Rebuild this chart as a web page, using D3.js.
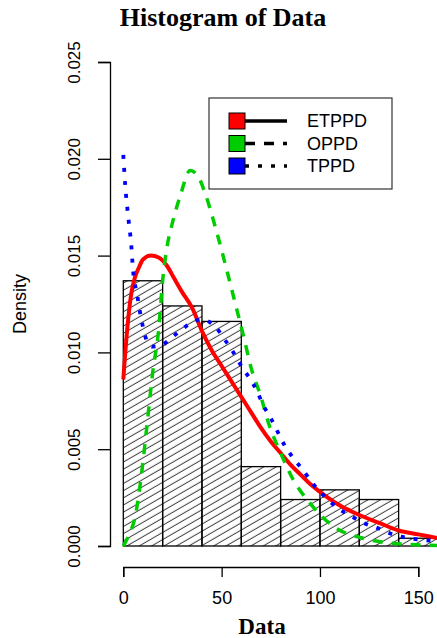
<!DOCTYPE html>
<html>
<head>
<meta charset="utf-8">
<script src="https://cdn.jsdelivr.net/npm/d3@7"></script>
<style>
  body { margin: 0; background: #fff; }
  svg { display: block; }
</style>
</head>
<body>
<div id="chart"></div>
<script>
// Histogram bins (density)
const binEdges = [0, 20, 40, 60, 80, 100, 120, 140, 160];
const binDensity = [0.0137, 0.0124, 0.0116, 0.0041, 0.0024, 0.0029, 0.0024, 0.0004];

// ETPPD curve (red, solid)
const redX = [0, 2, 4, 6, 8, 10, 14, 18, 22, 26, 30, 35, 40, 45, 50, 55, 60, 65, 70, 75, 80, 85, 90, 95, 100, 110, 120, 130, 140, 150, 160];
const redY = [0.0086, 0.0112, 0.0130, 0.0139, 0.0144, 0.0148, 0.0150, 0.0149, 0.0145, 0.0138, 0.0131, 0.0123, 0.0111, 0.0101, 0.0093, 0.0085, 0.0077, 0.0069, 0.0061, 0.0054, 0.0048, 0.0042, 0.0037, 0.0032, 0.0028, 0.0021, 0.0016, 0.0012, 0.0008, 0.0006, 0.0004];

// OPPD curve (green, dashed)
const greenX = [0, 3, 6, 9, 12, 15, 18, 20, 22, 25, 29, 34, 38, 42, 47, 53, 58, 61, 65, 70, 74, 80, 86, 95, 107, 122, 137, 160];
const greenY = [0, 0.0006, 0.0015, 0.0035, 0.0062, 0.0090, 0.0112, 0.0137, 0.0153, 0.0167, 0.0181, 0.0194, 0.0191, 0.0181, 0.0164, 0.0141, 0.0121, 0.0109, 0.0092, 0.0077, 0.0063, 0.0048, 0.0035, 0.0022, 0.0010, 0.0004, 0.00014, 0.00003];

// TPPD curve (blue, dotted)
const blueX = [0, 1, 2.5, 4, 5, 7, 9, 12, 15, 20, 25, 30, 34, 40, 47, 52, 56, 60, 64, 68, 71, 75, 78, 82, 86, 91.5, 96.5, 102, 108.5, 115, 122, 130, 137, 146, 160];
const blueY = [0.0202, 0.0186, 0.0170, 0.0156, 0.0142, 0.0130, 0.0118, 0.0106, 0.0103, 0.0104, 0.0108, 0.0112, 0.0115, 0.0117, 0.0113, 0.0106, 0.0100, 0.0093, 0.0087, 0.0080, 0.0073, 0.0066, 0.0060, 0.0052, 0.0046, 0.0039, 0.0032, 0.0026, 0.0020, 0.0016, 0.0012, 0.0009, 0.0006, 0.0004, 0.00025];

const xTicks = [0, 50, 100, 150];
const yTicks = [0, 0.005, 0.010, 0.015, 0.020, 0.025];

const legendLabels = ['ETPPD', 'OPPD', 'TPPD'];
const legendColors = ['#ff0000', '#00cd00', '#0000ff'];
const legendDash = [null, '10,9', '4,9'];

const width = 437;
const height = 638;

const svg = d3.select('#chart')
  .append('svg')
  .attr('width', width)
  .attr('height', height);

const x = d3.scaleLinear().domain([0, 150]).range([123.3, 418.3]);
const y = d3.scaleLinear().domain([0, 0.025]).range([546, 62]);

// Hatch pattern for bars
const defs = svg.append('defs');
const pattern = defs.append('pattern')
  .attr('id', 'hatch')
  .attr('patternUnits', 'userSpaceOnUse')
  .attr('width', 8)
  .attr('height', 6.2)
  .attr('patternTransform', 'rotate(-30)');
pattern.append('line')
  .attr('x1', 0).attr('y1', 3)
  .attr('x2', 8).attr('y2', 3)
  .attr('stroke', '#000')
  .attr('stroke-width', 0.8);

defs.append('clipPath')
  .attr('id', 'plot-clip')
  .append('rect')
  .attr('x', 0).attr('y', 0)
  .attr('width', width).attr('height', 560);

// Title
svg.append('text')
  .attr('x', 223)
  .attr('y', 26)
  .attr('text-anchor', 'middle')
  .attr('font-family', '"Liberation Serif", "DejaVu Serif", serif')
  .attr('font-weight', 'bold')
  .attr('font-size', 26)
  .text('Histogram of Data');

// Bars
const bins = binDensity.map((d, i) => ({ x0: binEdges[i], x1: binEdges[i + 1], d }));
const plot = svg.append('g').attr('clip-path', 'url(#plot-clip)');

plot.selectAll('rect.bar')
  .data(bins)
  .enter()
  .append('rect')
  .attr('class', 'bar')
  .attr('x', d => x(d.x0))
  .attr('y', d => y(d.d))
  .attr('width', d => x(d.x1) - x(d.x0))
  .attr('height', d => y(0) - y(d.d))
  .attr('fill', 'url(#hatch)')
  .attr('stroke', '#000')
  .attr('stroke-width', 1.3);

// Curves
const curveLine = d3.line()
  .x(d => x(d[0]))
  .y(d => y(d[1]))
  .curve(d3.curveMonotoneX);

const curves = [
  { xs: redX, ys: redY, color: legendColors[0], dash: legendDash[0], w: 4 },
  { xs: greenX, ys: greenY, color: legendColors[1], dash: legendDash[1], w: 3.5 },
  { xs: blueX, ys: blueY, color: legendColors[2], dash: legendDash[2], w: 3.8 }
];

curves.forEach(c => {
  plot.append('path')
    .datum(c.xs.map((v, i) => [v, c.ys[i]]))
    .attr('fill', 'none')
    .attr('stroke', c.color)
    .attr('stroke-width', c.w)
    .attr('stroke-dasharray', c.dash)
    .attr('d', curveLine);
});

// Y axis
const yAxis = svg.append('g')
  .attr('transform', 'translate(110, 0)')
  .call(d3.axisLeft(y).tickValues(yTicks).tickFormat(d3.format('.3f')).tickSize(12).tickPadding(0));
yAxis.select('.domain').attr('stroke', '#000').attr('stroke-width', 1.3);
yAxis.selectAll('.tick line').attr('stroke', '#000').attr('stroke-width', 1.3);
yAxis.selectAll('.tick text')
  .attr('font-family', '"Liberation Sans", Arial, sans-serif')
  .attr('font-size', 17)
  .attr('fill', '#000')
  .attr('x', null)
  .attr('dy', null)
  .attr('text-anchor', 'middle')
  .attr('transform', 'translate(-30, 0) rotate(-90)');

// X axis
const xAxis = svg.append('g')
  .attr('transform', 'translate(0, 567)')
  .call(d3.axisBottom(x).tickValues(xTicks).tickFormat(d3.format('d')).tickSize(10).tickPadding(14));
xAxis.select('.domain').attr('stroke', '#000').attr('stroke-width', 1.3);
xAxis.selectAll('.tick line').attr('stroke', '#000').attr('stroke-width', 1.3);
xAxis.selectAll('.tick text')
  .attr('font-family', '"Liberation Sans", Arial, sans-serif')
  .attr('font-size', 18)
  .attr('fill', '#000');

// Axis titles
svg.append('text')
  .attr('x', 262)
  .attr('y', 634)
  .attr('text-anchor', 'middle')
  .attr('font-family', '"Liberation Serif", "DejaVu Serif", serif')
  .attr('font-weight', 'bold')
  .attr('font-size', 23)
  .text('Data');

svg.append('text')
  .attr('transform', 'translate(26, 304) rotate(-90)')
  .attr('text-anchor', 'middle')
  .attr('font-family', '"Liberation Sans", Arial, sans-serif')
  .attr('font-size', 18)
  .text('Density');

// Legend
const legend = svg.append('g').attr('transform', 'translate(209, 98)');
legend.append('rect')
  .attr('width', 183)
  .attr('height', 91)
  .attr('fill', '#fff')
  .attr('stroke', '#333')
  .attr('stroke-width', 1.2);

const items = legend.selectAll('g.item')
  .data(legendLabels)
  .enter()
  .append('g')
  .attr('class', 'item')
  .attr('transform', (d, i) => `translate(0, ${23 + i * 22.5})`);

items.append('line')
  .attr('x1', 36).attr('x2', 78)
  .attr('y1', 0).attr('y2', 0)
  .attr('stroke', '#000')
  .attr('stroke-width', 3.5)
  .attr('stroke-dasharray', (d, i) => legendDash[i]);

items.append('rect')
  .attr('x', 20).attr('y', -8)
  .attr('width', 16).attr('height', 16)
  .attr('fill', (d, i) => legendColors[i])
  .attr('stroke', '#000')
  .attr('stroke-width', 1);

items.append('text')
  .attr('x', 98)
  .attr('y', 6)
  .attr('font-family', '"Liberation Sans", Arial, sans-serif')
  .attr('font-size', 18)
  .text(d => d);
</script>
</body>
</html>
